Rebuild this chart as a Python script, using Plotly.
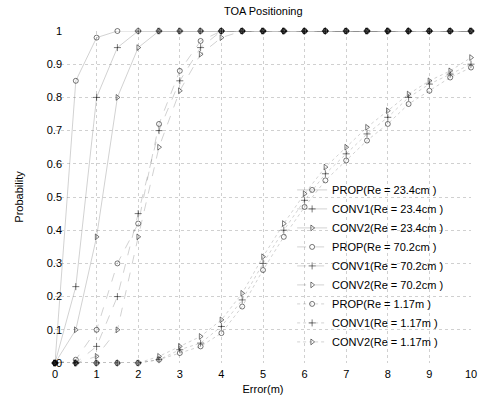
import plotly.graph_objects as go

x = [0, 0.5, 1, 1.5, 2, 2.5, 3, 3.5, 4, 4.5, 5, 5.5, 6, 6.5, 7, 7.5, 8, 8.5, 9, 9.5, 10]

prop_234 = [0.00, 0.85, 0.98, 1.00, 1.00, 1.00, 1.00, 1.00, 1.00, 1.00, 1.00, 1.00, 1.00, 1.00, 1.00, 1.00, 1.00, 1.00, 1.00, 1.00, 1.00]
conv1_234 = [0.00, 0.23, 0.80, 0.95, 1.00, 1.00, 1.00, 1.00, 1.00, 1.00, 1.00, 1.00, 1.00, 1.00, 1.00, 1.00, 1.00, 1.00, 1.00, 1.00, 1.00]
conv2_234 = [0.00, 0.10, 0.38, 0.80, 0.95, 1.00, 1.00, 1.00, 1.00, 1.00, 1.00, 1.00, 1.00, 1.00, 1.00, 1.00, 1.00, 1.00, 1.00, 1.00, 1.00]
prop_702 = [0.00, 0.01, 0.10, 0.30, 0.42, 0.72, 0.88, 0.97, 1.00, 1.00, 1.00, 1.00, 1.00, 1.00, 1.00, 1.00, 1.00, 1.00, 1.00, 1.00, 1.00]
conv1_702 = [0.00, 0.00, 0.05, 0.20, 0.45, 0.70, 0.85, 0.95, 1.00, 1.00, 1.00, 1.00, 1.00, 1.00, 1.00, 1.00, 1.00, 1.00, 1.00, 1.00, 1.00]
conv2_702 = [0.00, 0.00, 0.02, 0.10, 0.38, 0.65, 0.82, 0.93, 0.98, 1.00, 1.00, 1.00, 1.00, 1.00, 1.00, 1.00, 1.00, 1.00, 1.00, 1.00, 1.00]
prop_117 = [0.00, 0.00, 0.00, 0.00, 0.00, 0.01, 0.03, 0.05, 0.09, 0.17, 0.28, 0.38, 0.47, 0.55, 0.61, 0.67, 0.72, 0.78, 0.82, 0.86, 0.89]
conv1_117 = [0.00, 0.00, 0.00, 0.00, 0.00, 0.01, 0.04, 0.06, 0.11, 0.19, 0.30, 0.40, 0.49, 0.57, 0.63, 0.69, 0.74, 0.80, 0.84, 0.87, 0.90]
conv2_117 = [0.00, 0.00, 0.00, 0.00, 0.00, 0.02, 0.05, 0.08, 0.13, 0.21, 0.32, 0.42, 0.51, 0.59, 0.65, 0.71, 0.76, 0.81, 0.85, 0.88, 0.92]

names = ["PROP(Re = 23.4cm )", "CONV1(Re = 23.4cm )", "CONV2(Re = 23.4cm )",
         "PROP(Re = 70.2cm )", "CONV1(Re = 70.2cm )", "CONV2(Re = 70.2cm )",
         "PROP(Re = 1.17m )", "CONV1(Re = 1.17m )", "CONV2(Re = 1.17m )"]
series = [prop_234, conv1_234, conv2_234, prop_702, conv1_702, conv2_702, prop_117, conv1_117, conv2_117]
symbols = ["circle-open", "cross-thin-open", "triangle-right-open"] * 3
dashes = ["solid"] * 3 + ["dash"] * 3 + ["dot"] * 3

yticks = [0, 0.1, 0.2, 0.3, 0.4, 0.5, 0.6, 0.7, 0.8, 0.9, 1]
yticktext = ["0", "0.1", "0.2", "0.3", "0.4", "0.5", "0.6", "0.7", "0.8", "0.9", "1"]
xticks = [0, 1, 2, 3, 4, 5, 6, 7, 8, 9, 10]

fig = go.Figure()
for n, y, s, d in zip(names, series, symbols, dashes):
    fig.add_trace(go.Scatter(
        x=x, y=y, name=n, mode="lines+markers", cliponaxis=False,
        line=dict(color="rgba(0,0,0,0.3)", width=0.6, dash=d),
        marker=dict(symbol=s, size=5, color="rgba(0,0,0,0.75)",
                    line=dict(color="rgba(0,0,0,0.75)", width=0.7)),
    ))

fig.update_layout(
    width=483, height=399,
    margin=dict(l=55, r=12, t=31, b=36),
    paper_bgcolor="white", plot_bgcolor="white",
    font=dict(family="Liberation Sans, Arial, sans-serif", size=11, color="black"),
    title=dict(text="TOA Positioning", x=0.545, xanchor="center", y=0.982, yanchor="top",
               font=dict(size=11)),
    legend=dict(x=0.57, y=0.565, xanchor="left", yanchor="top", bgcolor="rgba(0,0,0,0)",
                borderwidth=0, font=dict(size=11), itemwidth=30),
    showlegend=True,
)
fig.update_xaxes(range=[0, 10], tickvals=xticks, showgrid=True, gridcolor="#d0d0d0",
                 griddash="dot", gridwidth=1, zeroline=False, showline=False, ticks="",
                 automargin=False, ticklabelstandoff=3,
                 title=dict(text="Error(m)", standoff=6, font=dict(size=11)))
fig.update_yaxes(range=[0, 1], tickvals=yticks, ticktext=yticktext, showgrid=True,
                 gridcolor="#d0d0d0", griddash="dot", gridwidth=1, zeroline=False,
                 showline=False, ticks="", automargin=False, ticklabelstandoff=-8,
                 title=dict(text="Probability", standoff=20, font=dict(size=11)))

fig.write_html("out.html", config={"displayModeBar": False},
               post_script="document.body.style.margin='0';document.body.style.padding='0';")
